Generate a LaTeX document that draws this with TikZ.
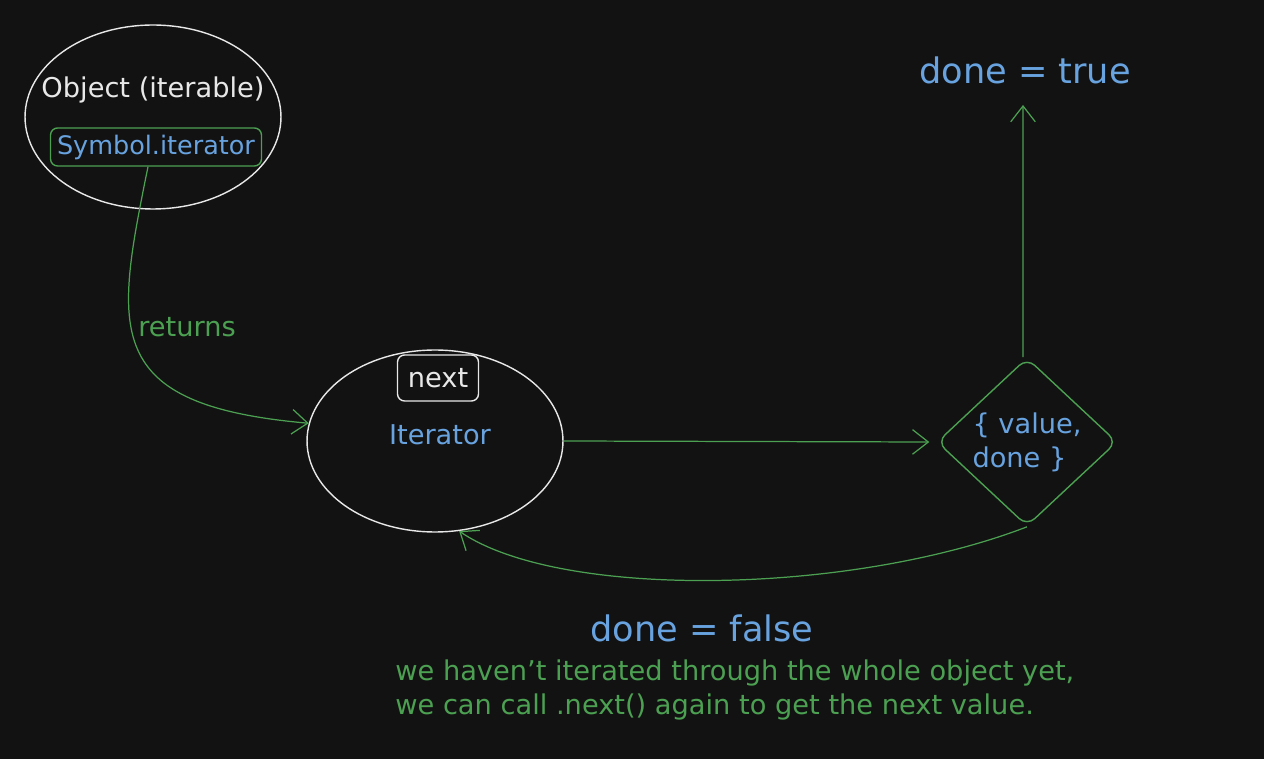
\documentclass[tikz,border=0pt]{standalone}
\usepackage{tikz}
\usepackage{fontspec}
\setmainfont{DejaVu Sans}
\usetikzlibrary{shapes.geometric,arrows.meta}
\definecolor{bg}{RGB}{18,18,18}
\definecolor{chalk}{RGB}{232,232,232}
\definecolor{sky}{RGB}{104,163,224}
\definecolor{leaf}{RGB}{76,160,82}
\newcommand{\smalltext}{\fontsize{15.5}{19.4}\selectfont}
\newcommand{\bigtext}{\fontsize{20}{24}\selectfont}

\begin{document}
\begin{tikzpicture}[x=0.02cm, y=-0.02cm,
  blob/.style={draw=chalk, line width=0.8pt, ellipse, inner sep=0pt},
  tag/.style={line width=0.8pt, rounded corners=4pt, inner sep=0pt, font=\smalltext},
  wire/.style={leaf, line width=0.7pt, -{Straight Barb[length=9pt,width=14pt]}},
  txt/.style={inner sep=0pt, font=\smalltext}]
\fill[bg] (0,0) rectangle (1264,759);
\useasboundingbox (0,0) rectangle (1264,759);

\node[blob, minimum width=5.12cm, minimum height=3.68cm] (obj) at (153,117) {};
\node[txt, chalk] (objlbl) at (153,90) {Object (iterable)};
\node[tag, draw=leaf, text=sky, minimum width=4.22cm, minimum height=0.76cm, font=\fontsize{14.5}{18}\selectfont] (sym) at (156,147) {Symbol.iterator};

\node[blob, minimum width=5.12cm, minimum height=3.64cm] (iter) at (435,441) {};
\node[tag, draw=chalk, text=chalk, minimum width=1.62cm, minimum height=0.92cm] (nxt) at (438,378) {next};
\node[txt, sky] (iterlbl) at (440,435) {Iterator};

\node[draw=leaf, line width=0.8pt, diamond, rounded corners=6pt, inner sep=0pt,
  minimum width=3.6cm, minimum height=3.2cm, text=sky, font=\smalltext, align=left] (res) at (1027,442) {\{ value,\\done \}};

\node[txt, leaf] (ret) at (187,327) {returns};
\node[inner sep=0pt, sky, font=\bigtext] (truelbl) at (1025,70) {done = true};
\node[inner sep=0pt, sky, font=\bigtext] (falselbl) at (702,628) {done = false};
\node[txt, leaf, anchor=west, align=left] (note) at (395,690) {we haven't iterated through the whole object yet,\\we can call .next() again to get the next value.};

\coordinate (up) at (1023,105);
\draw[wire] ([xshift=-0.16cm]sym.south) .. controls (115,330) and (100,405) .. (iter.172);
\draw[wire] (iter.east) -- ([xshift=-0.14cm]res.west);
\draw[wire] ([xshift=-0.08cm]res.north) -- (up);
\draw[wire] (res.south) .. controls (850,595) and (560,600) .. (iter.-75);
\end{tikzpicture}
\end{document}
